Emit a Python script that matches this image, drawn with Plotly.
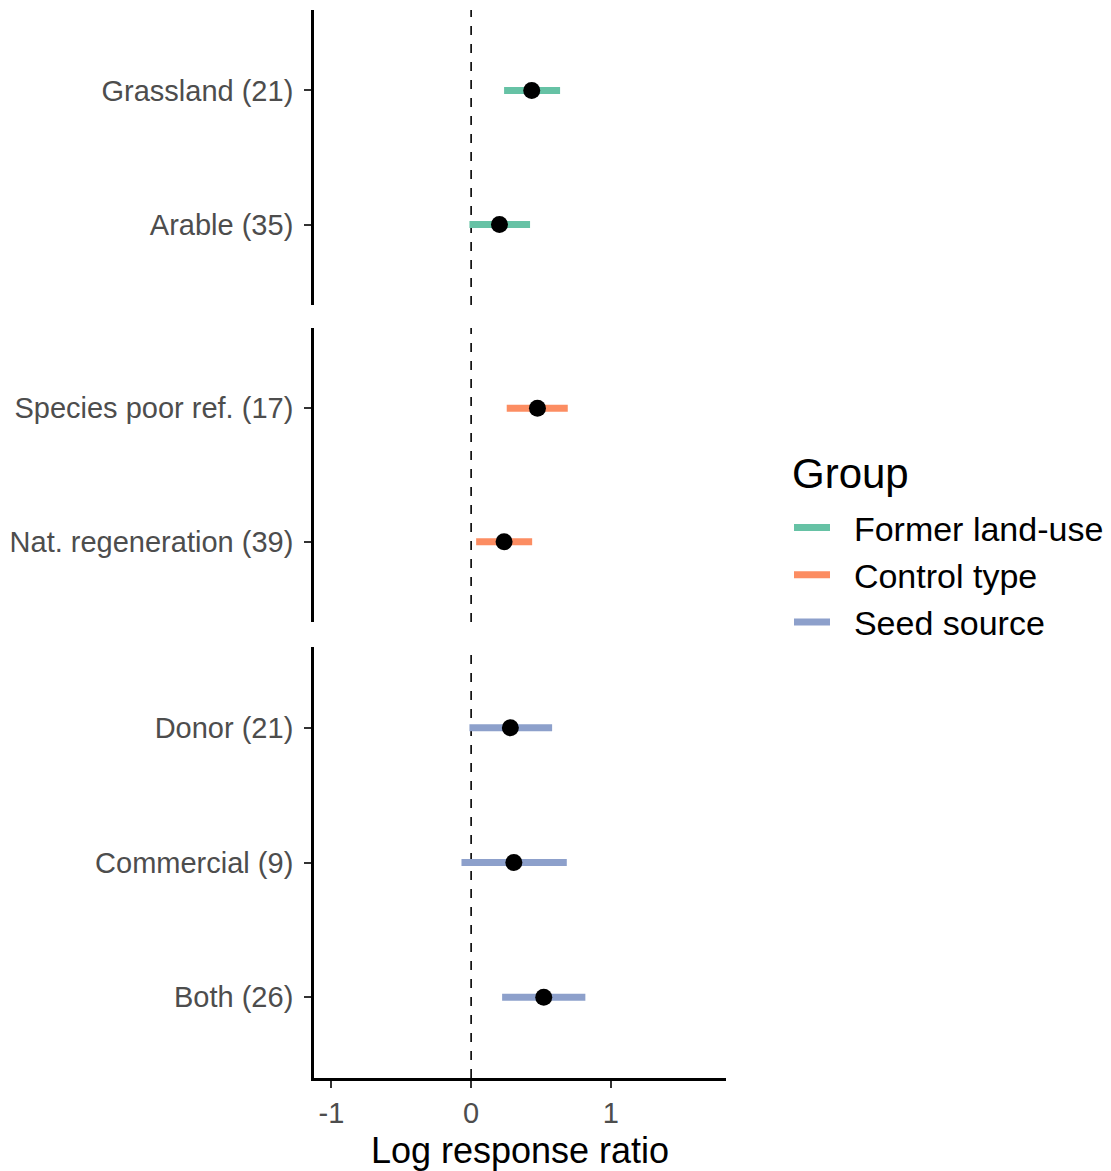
import plotly.graph_objects as go

# ---- data ----
groups = ["Former land-use", "Control type", "Seed source"]
colors = ["#66C2A5", "#FC8D62", "#8DA0CB"]

cats_landuse = ["Arable (35)", "Grassland (21)"]
est_landuse = [0.203, 0.434]
lo_landuse = [-0.012, 0.236]
hi_landuse = [0.422, 0.637]

cats_control = ["Nat. regeneration (39)", "Species poor ref. (17)"]
est_control = [0.236, 0.475]
lo_control = [0.036, 0.255]
hi_control = [0.437, 0.692]

cats_seed = ["Both (26)", "Commercial (9)", "Donor (21)"]
est_seed = [0.520, 0.306, 0.281]
lo_seed = [0.222, -0.069, -0.012]
hi_seed = [0.818, 0.685, 0.580]

panels = [
    (cats_landuse, est_landuse, lo_landuse, hi_landuse, "y"),
    (cats_control, est_control, lo_control, hi_control, "y2"),
    (cats_seed, est_seed, lo_seed, hi_seed, "y3"),
]

OFF = 8  # page body margin
W, H = 1111 - OFF, 1171 - OFF
ml = 314 - OFF
mt = 10 - OFF
mr = W - (726 - OFF)
mb = H - (1078 - OFF)
ph = H - mt - mb

def frac(px):
    # px in page coordinates
    return (1078 - px) / ph

domains = [
    [frac(305), 1.0],
    [frac(622), frac(328)],
    [0.0, frac(647)],
]

fig = go.Figure()

for gi, (cats, est, lo, hi, ya) in enumerate(panels):
    first = True
    for i, c in enumerate(cats):
        fig.add_trace(go.Scatter(
            x=[lo[i], hi[i]], y=[i + 1, i + 1], mode="lines",
            line=dict(color=colors[gi], width=7),
            name="\u00a0\u00a0" + groups[gi], legendgroup=groups[gi], showlegend=first,
            xaxis="x", yaxis=ya, hoverinfo="skip"))
        first = False
    fig.add_trace(go.Scatter(
        x=est, y=list(range(1, len(cats) + 1)), mode="markers",
        marker=dict(color="black", size=17),
        showlegend=False, xaxis="x", yaxis=ya))
    fig.add_shape(type="line", x0=0, x1=0, y0=0, y1=1, xref="x",
                  yref=f"{ya} domain", line=dict(color="black", width=1.6, dash="9px,9px"),
                  layer="below")

axis_common = dict(
    showline=True, linecolor="black", linewidth=2.8,
    ticks="outside", ticklen=7, tickwidth=2.2, tickcolor="#333333",
    tickfont=dict(size=29, color="#4D4D4D", family="Liberation Sans"),
    showgrid=False, zeroline=False,
)

layout_axes = {}
for gi, (cats, est, lo, hi, ya) in enumerate(panels):
    key = "yaxis" if ya == "y" else "yaxis" + ya[1:]
    layout_axes[key] = dict(
        axis_common, domain=domains[gi], anchor="x",
        tickvals=list(range(1, len(cats) + 1)), ticktext=cats,
        range=[0.4, len(cats) + 0.6], ticklabelstandoff=5,
    )

fig.update_layout(
    width=W, height=H,
    margin=dict(l=ml, r=mr, t=mt, b=mb),
    paper_bgcolor="white", plot_bgcolor="white",
    font=dict(family="Liberation Sans", color="black"),
    xaxis=dict(axis_common, anchor="y3", range=[-1.125, 1.825],
               tickvals=[-1, 0, 1], ticktext=["-1", "0", "1"],
               title=dict(text="Log response ratio", font=dict(size=36, color="black"),
                          standoff=12)),
    legend=dict(
        x=(789 - 314) / 412, y=frac(499), xanchor="left", yanchor="top",
        font=dict(size=34, color="black"),
        tracegroupgap=0, itemwidth=36,
    ),
    annotations=[dict(
        text="Group", x=(790 - 314) / 412, y=frac(473), xref="paper", yref="paper",
        xanchor="left", yanchor="middle", showarrow=False,
        font=dict(size=42, color="black"),
    )],
    **layout_axes,
)

fig.write_html("out.html")
